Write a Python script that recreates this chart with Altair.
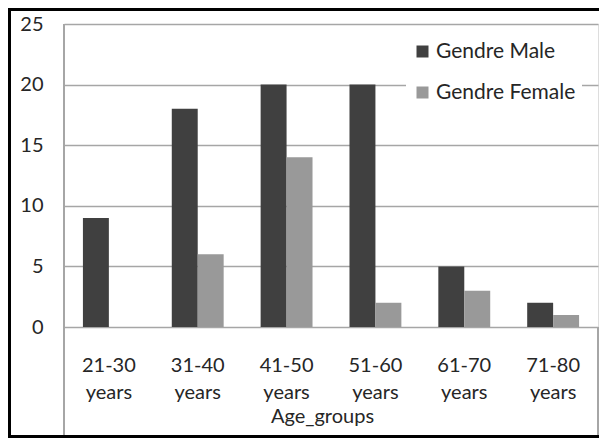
import altair as alt
import pandas as pd

age_groups = ["21-30 years", "31-40 years", "41-50 years", "51-60 years", "61-70 years", "71-80 years"]
male = [9, 18, 20, 20, 5, 2]
female = [0, 6, 14, 2, 3, 1]
series = ["Gendre Male", "Gendre Female"]
colors = ["#404040", "#999999"]
y_ticks = [0, 5, 10, 15, 20, 25]

rows = []
for g, m, f in zip(age_groups, male, female):
    rows.append({"Age_groups": g, "Gender": series[0], "Count": m})
    rows.append({"Age_groups": g, "Gender": series[1], "Count": f})
df = pd.DataFrame(rows)

FONT = "Lato"
TXT = "#262626"
GRID = "#a6a6a6"

bars = alt.Chart(df).mark_bar().encode(
    x=alt.X("Age_groups:N", sort=age_groups,
            scale=alt.Scale(paddingInner=0.416, paddingOuter=0.213),
            axis=alt.Axis(title="Age_groups", labelAngle=0, ticks=False, tickSize=0,
                          domain=False, grid=False,
                          labelExpr="split(datum.label, ' ')",
                          labelLineHeight=27, labelPadding=28,
                          labelFont=FONT, labelFontSize=20, labelColor=TXT,
                          titleFont=FONT, titleFontSize=20, titleFontWeight="normal",
                          titleColor=TXT, titleY=95, titleBaseline="alphabetic",
                          titleX=258, titleAlign="center")),
    xOffset=alt.XOffset("Gender:N", sort=series,
                        scale=alt.Scale(paddingInner=0, paddingOuter=0)),
    y=alt.Y("Count:Q", scale=alt.Scale(domain=[0, 25], nice=False),
            axis=alt.Axis(title=None, values=y_ticks, ticks=False, tickSize=0,
                          domain=False, grid=True, gridColor=GRID, gridWidth=1.5,
                          labelPadding=21, labelFont=FONT, labelFontSize=20,
                          labelColor=TXT)),
    color=alt.Color("Gender:N", sort=series,
                    scale=alt.Scale(domain=series, range=colors),
                    legend=alt.Legend(title=None, orient="none", legendX=342, legendY=11,
                                      fillColor="white", padding=6, rowPadding=19,
                                      symbolType="square", symbolSize=144,
                                      symbolStrokeWidth=0, labelOffset=3,
                                      labelFont=FONT, labelFontSize=21,
                                      labelColor=TXT)),
)

# decorative frame lines
left_line = alt.Chart(df).mark_rule(color=GRID, strokeWidth=1.5).encode(
    x=alt.value(0), y=alt.value(0), y2=alt.value(413))
right_line = alt.Chart(df).mark_rule(color=GRID, strokeWidth=1.5).encode(
    x=alt.value(534), y=alt.value(303), y2=alt.value(413))
border_left = alt.Chart(df).mark_rule(color="black", strokeWidth=3).encode(
    x=alt.value(-54.5), y=alt.value(-16), y2=alt.value(414))
border_top = alt.Chart(df).mark_rule(color="black", strokeWidth=3).encode(
    y=alt.value(-14.5), x=alt.value(-56), x2=alt.value(535))
border_bottom = alt.Chart(df).mark_rule(color="black", strokeWidth=3).encode(
    y=alt.value(412.5), x=alt.value(-56), x2=alt.value(535))

chart = alt.layer(left_line, right_line, bars, border_left, border_top, border_bottom).properties(
    width=534, height=303,
    autosize=alt.AutoSizeParams(type="none"),
    padding={"left": 56, "top": 16, "right": 1, "bottom": 111},
).configure_view(stroke=None).configure(background="white")

chart.save("out.html", embed_options={"renderer": "svg", "actions": False})
